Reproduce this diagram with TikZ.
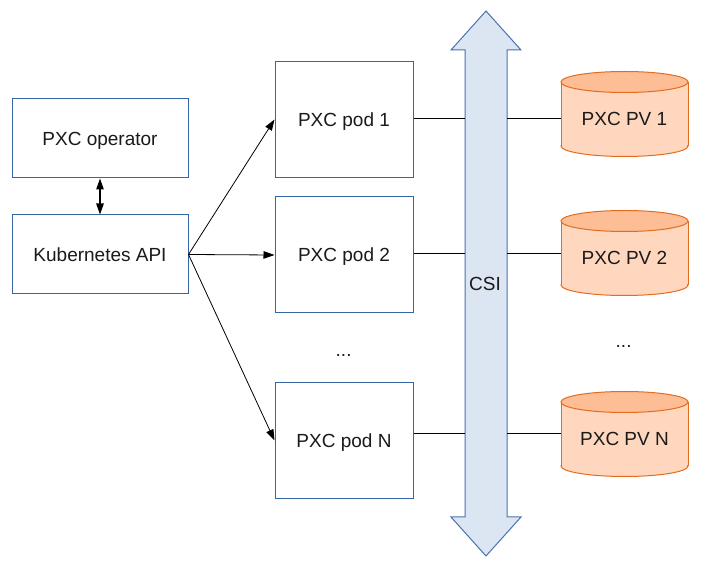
\documentclass[tikz,border=0pt]{standalone}
\usepackage{fontspec}
\setmainfont{Liberation Sans}
\usetikzlibrary{arrows.meta}
\definecolor{boxblue}{HTML}{3465A4}
\definecolor{csifill}{HTML}{DCE6F2}
\definecolor{csiline}{HTML}{4A72B2}
\definecolor{cylbody}{HTML}{FFD7BE}
\definecolor{cyltop}{HTML}{FDBD95}
\definecolor{cylline}{HTML}{E46C1E}
\definecolor{txt}{HTML}{1A1A1A}
\begin{document}
\begin{tikzpicture}[x=1pt,y=-1pt,
  font=\fontsize{19}{23}\selectfont,
  every node/.style={text=txt, text height=13.6pt, text depth=0pt, inner sep=0pt},
  blbox/.style={draw=boxblue, line width=1pt, fill=white, minimum width=176pt, minimum height=79pt},
  podbox/.style={draw=boxblue, line width=1pt, fill=white, minimum width=138pt, minimum height=116pt},
  cylnode/.style={minimum width=127pt, minimum height=20pt},
  dotsnode/.style={anchor=base west, text height=, text depth=},
  conn/.style={line width=1pt, black},
  tip/.style={line width=0.8pt, black, -{Triangle[length=11pt,width=7.5pt]}},
  dtip/.style={line width=1.2pt, black, {Triangle[length=11pt,width=7.5pt]}-{Triangle[length=11pt,width=7.5pt]}},
]
\useasboundingbox (0,0) rectangle (705,569);

% CSI double arrow
\node[minimum width=42pt, minimum height=467pt] (shaft) at (486,283.5) {};
\filldraw[fill=csifill, draw=csiline, line width=1pt]
  (465,50) -- (451,50) -- (486,11) -- (521,50) -- (507,50) -- (507,517)
  -- (521,517) -- (486,556) -- (451,517) -- (465,517) -- cycle;
\node (csi) at (485,284) {CSI};

% cylinders
\foreach \yt in {82,221,402}{
  \pgfmathsetmacro\yb{\yt+64}
  \fill[cylbody] (561,\yt) rectangle (688,\yb);
  \fill[cylbody] (624.5,\yb) ellipse (63.5 and 10.5);
  \begin{scope}
    \clip (550,\yb) rectangle (700,\yb+14);
    \draw[cylline, line width=1pt] (624.5,\yb) ellipse (63.5 and 10.5);
  \end{scope}
  \draw[cylline, line width=1pt] (561,\yt) -- (561,\yb) (688,\yt) -- (688,\yb);
  \filldraw[fill=cyltop, draw=cylline, line width=1pt] (624.5,\yt) ellipse (63.5 and 10.5);
}
\node[cylnode] (pv1) at (624.5,119) {PXC PV 1};
\node[cylnode] (pv2) at (624.5,258) {PXC PV 2};
\node[cylnode] (pvn) at (624.5,439) {PXC PV N};

% left boxes
\node[blbox] (op) at (100,138.5) {PXC operator};
\node[blbox] (k8s) at (100,254.5) {Kubernetes API};

% pods
\node[podbox] (pod1) at (344,119.5) {PXC pod 1};
\node[podbox] (pod2) at (344,255) {PXC pod 2};
\node[podbox] (podn) at (344,440.5) {PXC pod N};

\node[dotsnode] (dl) at (335.5,357) {...};
\node[dotsnode] (dr) at (615.5,348) {...};

% connectors
\draw[dtip] (op.south) -- (k8s.north);
\draw[tip] (k8s.east) -- (pod1.west);
\draw[tip] (k8s.east) -- (pod2.west);
\draw[tip] (k8s.east) -- (podn.west);

\draw[conn] (pod1.east |- 0,118.5) -- (shaft.west |- 0,118.5);
\draw[conn] (pod2.east |- 0,253.3) -- (shaft.west |- 0,253.3);
\draw[conn] (podn.east |- 0,433.3) -- (shaft.west |- 0,433.3);
\draw[conn] (shaft.east |- 0,119) -- (pv1.west |- 0,119);
\draw[conn] (shaft.east |- 0,253.3) -- (pv2.west |- 0,253.3);
\draw[conn] (shaft.east |- 0,433.3) -- (pvn.west |- 0,433.3);
\end{tikzpicture}
\end{document}
